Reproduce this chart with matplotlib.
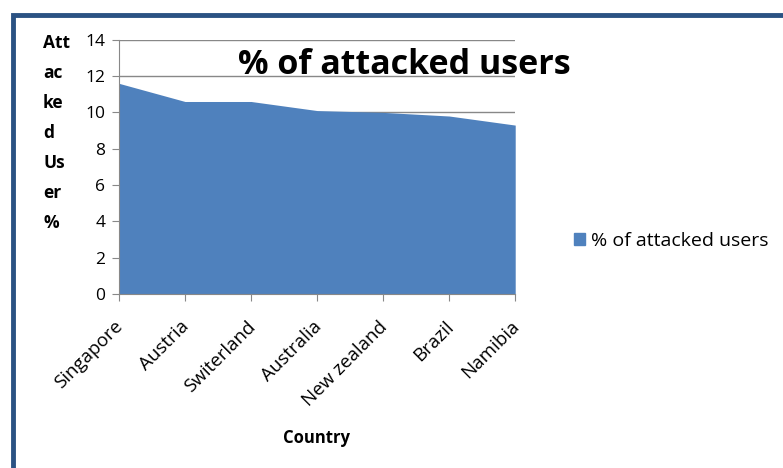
import matplotlib.pyplot as plt
from matplotlib.patches import Rectangle, Patch
from matplotlib.transforms import ScaledTranslation

countries = ['Singapore', 'Austria', 'Switerland', 'Australia',
             'New zealand', 'Brazil', 'Namibia']
attacked_pct = [11.6, 10.6, 10.6, 10.1, 10.0, 9.8, 9.3]
series_name = '% of attacked users'

plt.rcParams['font.family'] = ['Open Sans', 'DejaVu Sans']

fig = plt.figure(figsize=(7.83, 4.68), dpi=100)
ax = fig.add_axes([0.152, 0.372, 0.506, 0.543])

x = range(len(countries))
ax.fill_between(x, attacked_pct, 0, color='#4F81BD', linewidth=0, zorder=3)

ax.set_xlim(0, len(countries) - 1)
ax.set_ylim(0, 14)
ax.set_yticks(range(0, 15, 2))
ax.set_xticks(list(x))
ax.set_xticklabels(countries, rotation=45, ha='right', rotation_mode='anchor',
                   fontsize=13.5)
ax.tick_params(axis='y', labelsize=12.5, length=5, color='#888888', pad=5)
ax.tick_params(axis='x', length=5, color='#888888', pad=12)
shift = ScaledTranslation(-5 / 100, 0, fig.dpi_scale_trans)
for lab in ax.get_xticklabels():
    lab.set_transform(lab.get_transform() + shift)
ax.grid(axis='y', color='#888888', linewidth=1, zorder=1)

for side in ['top', 'right']:
    ax.spines[side].set_visible(False)
for side in ['left', 'bottom']:
    ax.spines[side].set_color('#888888')
    ax.spines[side].set_zorder(4)

fig.text(316 / 783, 1 - 438 / 468, 'Country', fontsize=12,
         fontweight='bold', ha='center', va='center')
fig.text(0.055, 0.928, 'Att\nac\nke\nd\nUs\ner\n%', fontsize=12.5,
         fontweight='bold', va='top', ha='left', linespacing=1.86)

fig.text(0.516, 0.861, series_name, fontsize=24.5, fontweight='bold',
         ha='center', va='center')

ax.legend(handles=[Patch(color='#4F81BD', label=series_name)],
          loc='center left', bbox_to_anchor=(1.105, 0.21), frameon=False,
          fontsize=14, handlelength=0.55, handleheight=0.55,
          handletextpad=0.3)

# dark frame around the chart area
fig.patches.append(Rectangle((0.016, -0.2), 1.2, 1.168,
                             transform=fig.transFigure, fill=False,
                             edgecolor='#2B5283', linewidth=3.5))

fig.savefig('out.png', dpi=100)
